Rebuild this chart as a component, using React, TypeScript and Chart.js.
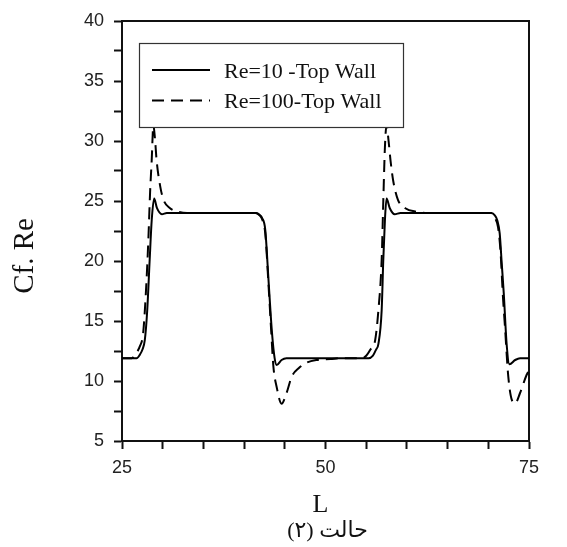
import React, { useEffect, useRef } from 'react';
import { Chart, registerables } from 'chart.js';

Chart.register(...registerables);

// Re=10 - Top Wall (solid)
const re10L = [25, 26.8, 27.2, 27.5, 27.8, 28.1, 28.4, 28.65, 28.95, 29.3, 29.9, 30.5, 35, 41.5, 41.9, 42.2, 42.6, 43.0, 43.4, 43.75, 44.0, 44.6, 45.2, 50, 55.3, 55.8, 56.2, 56.5, 56.9, 57.1, 57.3, 57.5, 57.9, 58.5, 59.2, 65, 70.4, 70.8, 71.1, 71.4, 71.65, 71.9, 72.25, 72.6, 73.3, 73.9, 75];
const re10V = [11.9, 11.9, 12.2, 12.6, 13.4, 15.9, 20.1, 23.4, 25.2, 24.4, 23.9, 24.0, 24.0, 24.0, 23.85, 23.6, 22.6, 18.4, 14.25, 11.9, 11.33, 11.75, 11.9, 11.9, 11.9, 12.1, 12.6, 13.1, 15.9, 20.1, 23.4, 25.2, 24.4, 23.9, 24.0, 24.0, 24.0, 23.8, 23.4, 22.3, 19.8, 17.3, 13.1, 11.4, 11.75, 11.9, 11.9];

// Re=100 - Top Wall (dashed)
const re100L = [25, 26.2, 26.6, 27.2, 27.6, 28.0, 28.25, 28.45, 28.65, 28.85, 29.05, 29.25, 29.7, 30.1, 30.9, 31.9, 33, 41.4, 41.9, 42.2, 42.6, 43.0, 43.3, 43.6, 44.0, 44.6, 45.2, 45.85, 46.7, 47.7, 48.9, 50.6, 52, 54.5, 55.0, 55.5, 56.1, 56.5, 56.9, 57.1, 57.3, 57.5, 57.75, 58.0, 58.3, 58.9, 59.8, 61.2, 62.5, 70.3, 70.8, 71.2, 71.5, 71.8, 72.05, 72.45, 72.9, 73.3, 73.9, 74.7, 75];
const re100V = [11.9, 11.9, 12.2, 12.9, 14.0, 18.2, 22.0, 25.7, 28.4, 31.3, 30.2, 28.4, 26.2, 25.1, 24.4, 24.1, 24.0, 24.0, 23.8, 23.5, 22.3, 18.0, 14.5, 11.2, 9.5, 8.1, 8.97, 10.36, 11.06, 11.53, 11.75, 11.83, 11.9, 11.9, 12.1, 12.6, 13.4, 15.9, 20.1, 25.0, 29.5, 31.3, 30.0, 28.3, 26.75, 25.1, 24.4, 24.1, 24.0, 24.0, 23.6, 22.8, 20.8, 17.0, 14.5, 10.4, 8.4, 8.14, 9.0, 10.5, 10.9];

const seriesNames = ['Re=10 -Top Wall', 'Re=100-Top Wall'];
const xTickLabels = [25, 50, 75];
const yTickLabels = [5, 10, 15, 20, 25, 30, 35, 40];
const xTitle = 'L';
const yTitle = 'Cf. Re';
const caption = 'حالت (۲)';

const AXIS = '#111';
const TICKTXT = '#222';
const SANS = '"Liberation Sans", Arial, sans-serif';
const SERIF = '"Liberation Serif", "Times New Roman", "DejaVu Sans", serif';

export default function App() {
  const ref = useRef<HTMLCanvasElement>(null);

  useEffect(() => {
    const canvas = ref.current;
    if (!canvas) return;

    const decor = {
      id: 'decor',
      afterDraw(chart: any) {
        const c = chart.ctx as CanvasRenderingContext2D;
        const a = chart.chartArea;
        c.save();
        // legend box
        const bx = a.left + 17;
        const by = a.top + 22;
        const bw = 264;
        const bh = 84;
        c.fillStyle = '#fff';
        c.fillRect(bx, by, bw, bh);
        c.strokeStyle = '#333';
        c.lineWidth = 1.2;
        c.strokeRect(bx + 0.5, by + 0.5, bw, bh);
        const rows = [by + 27, by + 57.5];
        const dashes = [[], [12, 7]];
        for (let i = 0; i < seriesNames.length; i++) {
          c.beginPath();
          c.setLineDash(dashes[i]);
          c.strokeStyle = '#000';
          c.lineWidth = 2;
          c.moveTo(bx + 13, rows[i]);
          c.lineTo(bx + 71, rows[i]);
          c.stroke();
          c.setLineDash([]);
          c.fillStyle = '#111';
          c.font = `22px ${SERIF}`;
          c.textAlign = 'left';
          c.textBaseline = 'alphabetic';
          c.fillText(seriesNames[i], bx + 85, rows[i] + 7.8);
        }
        // y title
        c.save();
        c.translate(25, 256);
        c.rotate(-Math.PI / 2);
        c.font = `29px ${SERIF}`;
        c.fillStyle = '#111';
        c.textAlign = 'center';
        c.textBaseline = 'middle';
        c.fillText(yTitle, 0, 0);
        c.restore();
        // x title
        c.font = `26px ${SERIF}`;
        c.fillStyle = '#111';
        c.textAlign = 'center';
        c.textBaseline = 'alphabetic';
        c.fillText(xTitle, 320.5, 511.5);
        // caption
        c.font = `22px ${SERIF}`;
        c.textAlign = 'center';
        c.textBaseline = 'alphabetic';
        c.direction = 'rtl';
        c.fillText(caption, 327.5, 537);
        c.restore();
      },
    };

    const chart = new Chart(canvas, {
      type: 'line',
      data: {
        datasets: [
          {
            label: seriesNames[0],
            data: re10L.map((x, i) => ({ x, y: re10V[i] })),
            borderColor: '#000',
            borderWidth: 2,
            pointRadius: 0,
            fill: false,
            cubicInterpolationMode: 'monotone',
          },
          {
            label: seriesNames[1],
            data: re100L.map((x, i) => ({ x, y: re100V[i] })),
            borderColor: '#000',
            borderWidth: 2,
            borderDash: [12, 7],
            pointRadius: 0,
            fill: false,
            cubicInterpolationMode: 'monotone',
          },
        ],
      },
      options: {
        responsive: false,
        animation: false,
        events: [],
        layout: { padding: { left: 0, top: 21, right: 38, bottom: 0 } },
        plugins: {
          legend: { display: false },
          tooltip: { enabled: false },
          title: { display: false },
        },
        scales: {
          x: {
            type: 'linear',
            position: 'bottom',
            min: 25,
            max: 75,
            border: { display: true, color: AXIS, width: 2 },
            grid: { display: true, drawOnChartArea: false, drawTicks: true, tickLength: 8, tickWidth: 2, tickColor: AXIS },
            ticks: {
              stepSize: 5,
              autoSkip: false,
              maxRotation: 0,
              padding: 8,
              color: TICKTXT,
              font: { family: SANS, size: 18 },
              callback: (v: any) => (xTickLabels.includes(Number(v)) ? String(v) : ''),
            },
            afterFit: (s: any) => { s.height = 106; },
          },
          y: {
            type: 'linear',
            position: 'left',
            min: 5,
            max: 40,
            border: { display: true, color: AXIS, width: 2 },
            grid: { display: true, drawOnChartArea: false, drawTicks: true, tickLength: 8, tickWidth: 2, tickColor: AXIS },
            ticks: {
              stepSize: 2.5,
              autoSkip: false,
              padding: 10,
              color: TICKTXT,
              font: { family: SANS, size: 18 },
              callback: (v: any) => (yTickLabels.includes(Number(v)) ? String(v) : ''),
            },
            afterFit: (s: any) => { s.width = 122; },
          },
          x2: {
            type: 'linear',
            position: 'top',
            min: 25,
            max: 75,
            border: { display: true, color: AXIS, width: 2 },
            grid: { display: false, drawTicks: false },
            ticks: { display: false },
            afterFit: (s: any) => { s.height = 0; },
          },
          y2: {
            type: 'linear',
            position: 'right',
            min: 5,
            max: 40,
            border: { display: true, color: AXIS, width: 2 },
            grid: { display: false, drawTicks: false },
            ticks: { display: false },
            afterFit: (s: any) => { s.width = 0; },
          },
        },
      } as any,
      plugins: [decor],
    });

    return () => chart.destroy();
  }, []);

  return (
    <div style={{ position: 'absolute', left: 0, top: 0, width: 567, height: 547, background: '#fff' }}>
      <canvas ref={ref} width={567} height={547} style={{ display: 'block', width: 567, height: 547 }} />
    </div>
  );
}
